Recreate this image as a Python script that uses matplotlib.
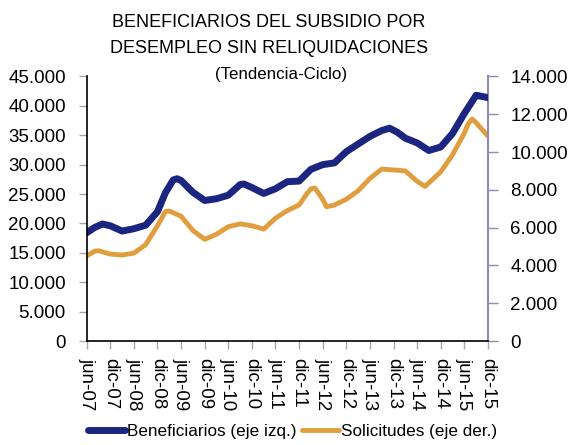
import numpy as np
import matplotlib
matplotlib.use("Agg")
import matplotlib.pyplot as plt
from matplotlib.ticker import FuncFormatter, FixedLocator

plt.rcParams['font.family'] = ['Liberation Sans', 'DejaVu Sans']

# Datos, indice en meses desde jun-07
meses_b = [0, 2, 4, 6, 9, 12, 15, 18, 20, 22, 23, 24, 27, 30, 33, 36, 39, 40, 42,
           45, 48, 51, 54, 57, 60, 63, 66, 69, 72, 75, 77, 79, 81, 84, 87, 90, 93,
           96, 99, 102]
beneficiarios = [18400, 19300, 19900, 19600, 18700, 19100, 19700, 22000, 25200,
                 27400, 27600, 27300, 25300, 23900, 24200, 24800, 26600, 26700,
                 26100, 25100, 25900, 27100, 27200, 29200, 30000, 30300, 32200,
                 33500, 34800, 35800, 36200, 35500, 34500, 33700, 32400, 33000,
                 35300, 38700, 41800, 41400]
meses_s = [0, 2, 3, 6, 9, 12, 15, 18, 20, 21, 24, 27, 30, 33, 36, 39, 42, 45, 48,
           51, 54, 56, 57, 58, 60, 61, 63, 66, 69, 72, 75, 78, 81, 84, 86, 90, 93,
           96, 97, 98, 99, 102]
solicitudes = [4500, 4750, 4780, 4600, 4550, 4650, 5100, 6100, 6850, 6880, 6600,
               5850, 5380, 5650, 6050, 6200, 6100, 5920, 6500, 6900, 7200, 7800,
               8050, 8100, 7500, 7100, 7200, 7500, 7950, 8600, 9100, 9050, 9000,
               8450, 8180, 8950, 9850, 11000, 11500, 11750, 11550, 10850]
etiquetas = ['jun-07', 'dic-07', 'jun-08', 'dic-08', 'jun-09', 'dic-09',
             'jun-10', 'dic-10', 'jun-11', 'dic-11', 'jun-12', 'dic-12',
             'jun-13', 'dic-13', 'jun-14', 'dic-14', 'jun-15', 'dic-15']

azul = '#1c2680'
naranja = '#e09e3e'
gris_eje = '#8c8cb0'
fs = 13.5

fmt = FuncFormatter(lambda v, p: f'{int(v):,}'.replace(',', '.'))

fig = plt.figure(figsize=(5.68, 4.45), dpi=100)
ax = fig.add_axes([0.1526, 0.2337, 0.7064, 0.5945])
ax2 = ax.twinx()

l1, = ax.plot(meses_b, beneficiarios, color=azul, lw=5, solid_capstyle='round',
              solid_joinstyle='round', label='Beneficiarios (eje izq.)')
l2, = ax2.plot(meses_s, solicitudes, color=naranja, lw=3.5, solid_capstyle='round',
               solid_joinstyle='round', label='Solicitudes (eje der.)')
ax.set_zorder(ax2.get_zorder() + 1)
ax.patch.set_visible(False)

ax.set_xlim(0, 102)
ax.set_ylim(0, 45000)
ax2.set_ylim(0, 14000)
ax.set_yticks(np.arange(0, 45001, 5000))
ax2.set_yticks(np.arange(0, 14001, 2000))
ax.yaxis.set_major_formatter(fmt)
ax2.yaxis.set_major_formatter(fmt)

ax.xaxis.set_major_locator(FixedLocator(np.arange(0, 103, 6)))
ax.set_xticklabels(etiquetas, rotation=-90, fontsize=fs)

ax.tick_params(axis='y', labelsize=fs, length=6, width=1, color='#a8a8a8', pad=9)
ax.tick_params(axis='x', length=6, width=1, color='#a8a8a8', pad=6)
ax2.tick_params(axis='y', labelsize=fs, length=7, width=1, color=gris_eje, pad=9)

for a in (ax, ax2):
    a.spines['top'].set_visible(False)
ax.spines['right'].set_visible(False)
ax2.spines['left'].set_visible(False)
ax2.spines['bottom'].set_visible(False)
ax2.spines['right'].set_color(gris_eje)
ax2.spines['right'].set_linewidth(1.5)
ax.spines['left'].set_linewidth(1.2)
ax.spines['bottom'].set_linewidth(1.2)

tfs = 13
fig.text(0.473, 0.950, 'BENEFICIARIOS DEL SUBSIDIO POR', ha='center', va='center', fontsize=tfs)
fig.text(0.473, 0.891, 'DESEMPLEO SIN RELIQUIDACIONES', ha='center', va='center', fontsize=tfs)
fig.text(0.495, 0.833, '(Tendencia-Ciclo)', ha='center', va='center', fontsize=tfs - 0.8)

fig.legend(handles=[l1, l2], loc='center', bbox_to_anchor=(0.515, 0.03), ncol=2,
           frameon=False, fontsize=12.3, handlelength=2.2, handletextpad=0.1,
           columnspacing=0.3)

fig.savefig('out.png', dpi=100)
